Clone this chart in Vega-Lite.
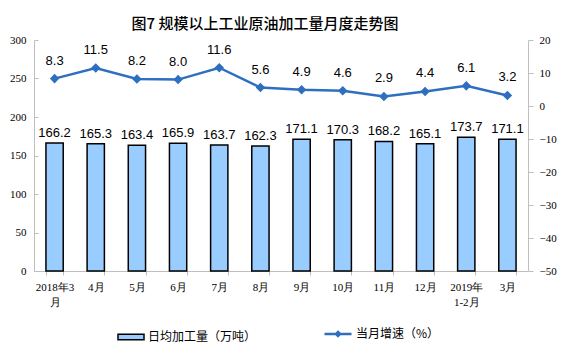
{
  "$schema": "https://vega.github.io/schema/vega-lite/v6.json",
  "autosize": {"type": "none"},
  "width": 494,
  "height": 231,
  "padding": {"left": 34, "top": 40, "right": 33, "bottom": 86},
  "background": "white",
  "title": {
    "text": "图7  规模以上工业原油加工量月度走势图",
    "fontSize": 15,
    "font": "Noto Sans CJK SC",
    "fontWeight": 500,
    "color": "#000000",
    "anchor": "middle",
    "dx": -16,
    "offset": 2
  },
  "config": {
    "view": {"stroke": null},
    "axis": {"grid": false, "domainColor": "#bfbfbf", "tickColor": "#bfbfbf", "labelColor": "#000000", "labelFont": "Liberation Serif", "labelFontSize": 11}
  },
  "data": {
    "values": [
      {"month": "2018年3月", "output": 166.2, "growth": 8.3},
      {"month": "4月", "output": 165.3, "growth": 11.5},
      {"month": "5月", "output": 163.4, "growth": 8.2},
      {"month": "6月", "output": 165.9, "growth": 8.0},
      {"month": "7月", "output": 163.7, "growth": 11.6},
      {"month": "8月", "output": 162.3, "growth": 5.6},
      {"month": "9月", "output": 171.1, "growth": 4.9},
      {"month": "10月", "output": 170.3, "growth": 4.6},
      {"month": "11月", "output": 168.2, "growth": 2.9},
      {"month": "12月", "output": 165.1, "growth": 4.4},
      {"month": "2019年1-2月", "output": 173.7, "growth": 6.1},
      {"month": "3月", "output": 171.1, "growth": 3.2}
    ]
  },
  "encoding": {
    "x": {
      "field": "month",
      "type": "nominal",
      "sort": null,
      "scale": {"paddingInner": 0.58, "paddingOuter": 0.29},
      "axis": {
        "title": null,
        "labelAngle": 0,
        "labelPadding": 6,
        "tickBand": "extent",
        "tickSize": 4,
        "labelLineHeight": 15,
        "labelExpr": "datum.value == '2018年3月' ? ['2018年3', '月'] : datum.value == '2019年1-2月' ? ['2019年', '1-2月'] : datum.label"
      }
    }
  },
  "layer": [
    {
      "encoding": {
        "y": {
          "field": "output",
          "type": "quantitative",
          "scale": {"domain": [0, 300], "nice": false},
          "axis": {"title": null, "values": [0, 50, 100, 150, 200, 250, 300], "tickSize": -4, "labelPadding": 12}
        }
      },
      "layer": [
        {
          "mark": {"type": "bar", "stroke": "#000000", "strokeWidth": 1.5},
          "encoding": {
            "fill": {
              "datum": "日均加工量（万吨）",
              "type": "nominal",
              "scale": {"range": ["#99CCFF"]},
              "legend": {
                "title": null,
                "orient": "none",
                "legendX": 83,
                "legendY": 283,
                "symbolType": "M-1,-0.22H1V0.22H-1Z",
                "symbolSize": 676,
                "symbolStrokeColor": "#000000",
                "symbolStrokeWidth": 1.5,
                "labelFont": "Noto Sans CJK SC",
                "labelFontSize": 12,
                "labelColor": "#000000",
                "labelOffset": 3
              }
            }
          }
        },
        {
          "mark": {"type": "text", "dy": -10, "fontSize": 13, "font": "Liberation Sans", "color": "#000000"},
          "encoding": {
            "text": {"field": "output", "type": "quantitative", "format": ".1f"}
          }
        }
      ]
    },
    {
      "encoding": {
        "y": {
          "field": "growth",
          "type": "quantitative",
          "scale": {"domain": [-50, 20], "nice": false},
          "axis": {"title": null, "orient": "right", "values": [-50, -40, -30, -20, -10, 0, 10, 20], "tickSize": 5, "labelPadding": 6}
        }
      },
      "layer": [
        {
          "mark": {"type": "line", "strokeWidth": 2.5, "point": {"shape": "diamond", "size": 45, "filled": true, "color": "#2E6FBF"}},
          "encoding": {
            "stroke": {
              "datum": "当月增速（%）",
              "type": "nominal",
              "scale": {"range": ["#2E6FBF"]},
              "legend": {
                "title": null,
                "orient": "none",
                "legendX": 289,
                "legendY": 279,
                "symbolType": "M-1,0H1M0,-0.15L0.15,0L0,0.15L-0.15,0Z",
                "symbolSize": 729,
                "symbolStrokeWidth": 2.5,
                "symbolFillColor": "#2E6FBF",
                "labelFont": "Noto Sans CJK SC",
                "labelFontSize": 12,
                "labelColor": "#000000",
                "labelOffset": 3
              }
            }
          }
        },
        {
          "mark": {"type": "text", "dy": -18, "fontSize": 13, "font": "Liberation Sans", "color": "#000000"},
          "encoding": {
            "text": {"field": "growth", "type": "quantitative", "format": ".1f"}
          }
        }
      ]
    }
  ],
  "resolve": {"scale": {"y": "independent"}}
}
